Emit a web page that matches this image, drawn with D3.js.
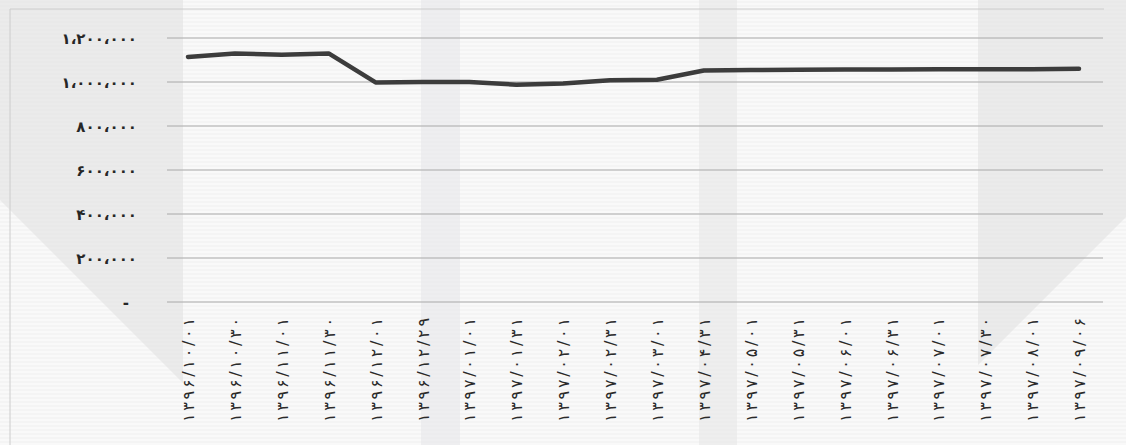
<!DOCTYPE html>
<html>
<head>
<meta charset="utf-8">
<script src="https://cdn.jsdelivr.net/npm/d3@7/dist/d3.min.js"></script>
<style>
  html, body { margin: 0; padding: 0; background: #f8f8f8; }
  svg { display: block; }
</style>
</head>
<body>
<svg id="chart" width="1126" height="445"></svg>
<script>
const categories = [
  "۱۳۹۶/۱۰/۰۱", "۱۳۹۶/۱۰/۳۰", "۱۳۹۶/۱۱/۰۱", "۱۳۹۶/۱۱/۳۰", "۱۳۹۶/۱۲/۰۱",
  "۱۳۹۶/۱۲/۲۹", "۱۳۹۷/۰۱/۰۱", "۱۳۹۷/۰۱/۳۱", "۱۳۹۷/۰۲/۰۱", "۱۳۹۷/۰۲/۳۱",
  "۱۳۹۷/۰۳/۰۱", "۱۳۹۷/۰۴/۳۱", "۱۳۹۷/۰۵/۰۱", "۱۳۹۷/۰۵/۳۱", "۱۳۹۷/۰۶/۰۱",
  "۱۳۹۷/۰۶/۳۱", "۱۳۹۷/۰۷/۰۱", "۱۳۹۷/۰۷/۳۰", "۱۳۹۷/۰۸/۰۱", "۱۳۹۷/۰۹/۰۶"
];
const values = [
  1114000, 1130000, 1124000, 1130000, 998000,
  1000000, 1000000, 988000, 993000, 1008000,
  1010000, 1052000, 1054000, 1056000, 1057000,
  1057000, 1058000, 1058000, 1058000, 1060000
];
const yTickValues = [0, 200000, 400000, 600000, 800000, 1000000, 1200000];
const yTickLabels = ["-", "۲۰۰،۰۰۰", "۴۰۰،۰۰۰", "۶۰۰،۰۰۰", "۸۰۰،۰۰۰", "۱،۰۰۰،۰۰۰", "۱،۲۰۰،۰۰۰"];

const svg = d3.select("#chart");
const W = 1126, H = 445;

svg.append("rect").attr("width", W).attr("height", H).attr("fill", "#f9f9f9");
const bg = svg.append("g");
for (let y = 2; y < H; y += 4) {
  bg.append("line").attr("x1", 0).attr("x2", W).attr("y1", y).attr("y2", y)
    .attr("stroke", "#efefef").attr("stroke-width", 1);
}
bg.append("path").attr("d", "M0,0 L183,0 L183,383 L0,200 Z").attr("fill", "#dedede").attr("opacity", 0.5);
bg.append("path").attr("d", "M978,0 L1126,0 L1126,217 L978,365 Z").attr("fill", "#dedede").attr("opacity", 0.5);
bg.append("rect").attr("x", 421).attr("y", 0).attr("width", 39).attr("height", H).attr("fill", "#e4e4e8").attr("opacity", 0.5);
bg.append("rect").attr("x", 699).attr("y", 0).attr("width", 38).attr("height", H).attr("fill", "#e4e4e4").attr("opacity", 0.5);
bg.append("line").attr("x1", 10).attr("x2", 1104).attr("y1", 9).attr("y2", 9).attr("stroke", "#cccccc");
bg.append("line").attr("x1", 10).attr("x2", 10).attr("y1", 9).attr("y2", H).attr("stroke", "#cccccc");

const x = d3.scalePoint().domain(categories).range([188, 1079]);
const y = d3.scaleLinear().domain([0, 1200000]).range([302, 38]);

svg.append("g").selectAll("line").data(yTickValues).join("line")
  .attr("x1", 167).attr("x2", 1103)
  .attr("y1", d => y(d)).attr("y2", d => y(d))
  .attr("stroke", "#aaaaaa").attr("stroke-width", 1);

const yAxis = d3.axisLeft(y).tickValues(yTickValues).tickSize(0).tickPadding(0)
  .tickFormat((d, i) => yTickLabels[i]);
const gy = svg.append("g").attr("transform", "translate(137,0)").call(yAxis);
gy.select(".domain").remove();
gy.selectAll("text")
  .attr("font-family", "DejaVu Sans, sans-serif")
  .attr("font-size", 15).attr("font-weight", "bold").attr("fill", "#262626")
  .attr("dy", "0.35em")
  .attr("x", (d, i) => i === 0 ? -8 : 0);

const xAxis = d3.axisBottom(x).tickSize(0).tickPadding(0);
const gx = svg.append("g").attr("transform", "translate(0,318)").call(xAxis);
gx.select(".domain").remove();
gx.selectAll("text")
  .attr("font-family", "DejaVu Sans, sans-serif")
  .attr("font-size", 16).attr("fill", "#2a2a2a")
  .attr("textLength", 104)
  .attr("lengthAdjust", "spacing")
  .attr("text-anchor", "end")
  .attr("transform", "rotate(-90)")
  .attr("x", 0).attr("y", 0).attr("dy", "0.35em");

const line = d3.line().x((d, i) => x(categories[i])).y(d => y(d));
svg.append("path").datum(values)
  .attr("d", line)
  .attr("fill", "none")
  .attr("stroke", "#3c3c3c")
  .attr("stroke-width", 4.5)
  .attr("stroke-linejoin", "round")
  .attr("stroke-linecap", "round");
</script>
</body>
</html>
